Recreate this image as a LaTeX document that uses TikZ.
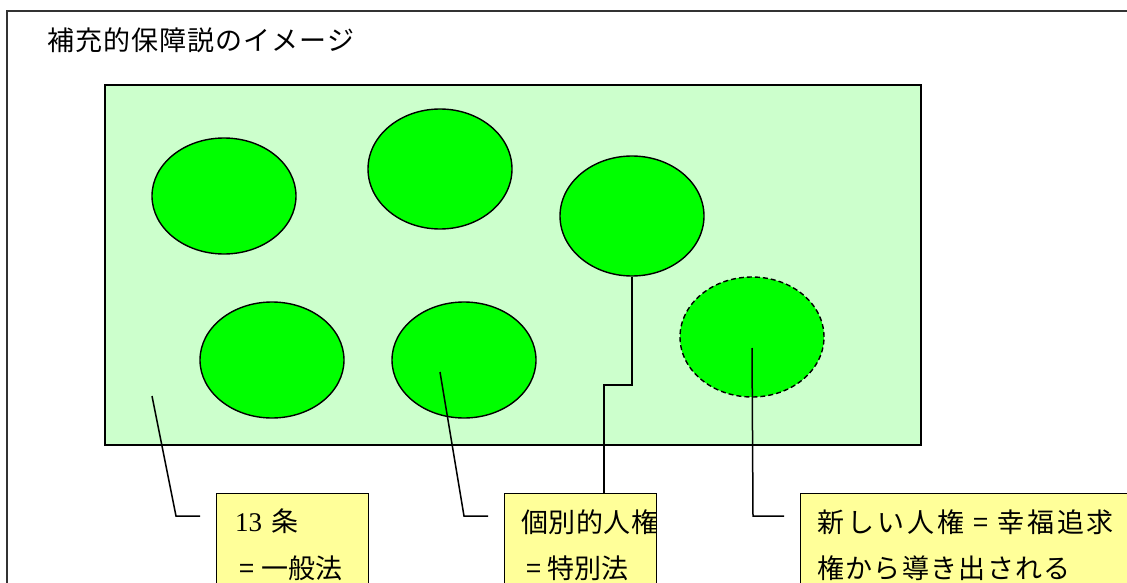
\documentclass[tikz,border=0pt]{standalone}
\usepackage{fontspec}
\setmainfont{Liberation Serif}
\newfontfamily\jp{Noto Sans CJK JP}
\usetikzlibrary{shapes.geometric}
\definecolor{fieldgreen}{HTML}{CCFFCC}
\definecolor{bubble}{HTML}{00FF00}
\definecolor{notey}{HTML}{FFFF99}
\begin{document}
\begin{tikzpicture}[x=1pt,y=-1pt,
  bub/.style={ellipse, draw, line width=1.4pt, fill=bubble, minimum width=144pt, minimum height=118pt, inner sep=0pt},
  note/.style={draw, line width=1.4pt, fill=notey, anchor=north west, inner sep=0pt, minimum height=150pt},
  lead/.style={line width=1.5pt},
  jtxt/.style={anchor=base west, font=\jp\fontsize{27}{27}\selectfont, inner sep=0pt}]
\useasboundingbox (0,0) rectangle (1127,583);
\clip (0,0) rectangle (1127,583);
% frame
\draw[line width=1.6pt, draw=black!80] (7,590) -- (7,11) -- (1130,11);
\node[jtxt, font=\jp\fontsize{27}{27}\selectfont\addfontfeature{LetterSpace=4}] (title) at (47,51) {補充的保障説のイメージ};
% field
\node[draw, line width=1.7pt, fill=fieldgreen, minimum width=816pt, minimum height=360pt, inner sep=0pt, anchor=north west] (field) at (104,84) {};
% bubbles
\node[bub, minimum height=116pt] (e1) at (224,196) {};
\node[bub, minimum height=120pt] (e2) at (440,169) {};
\node[bub, minimum height=120pt] (e3) at (632,216) {};
\node[bub, minimum height=116pt] (e4) at (272,360) {};
\node[bub, minimum height=116pt] (e5) at (464,360) {};
\node[bub, minimum height=120pt, dash pattern=on 5pt off 3pt] (e6) at (752,337) {};
% notes
\node[note, minimum width=152pt] (b1) at (216,493) {};
\node[note, minimum width=152pt] (b2) at (504,493) {};
\node[note, minimum width=340pt] (b3) at (800,493) {};
% texts
\node[jtxt] (t1a) at (235,531) {\hbox{\rmfamily 13}\kern9pt\hbox{条}};
\node[jtxt] (t1b) at (239,578) {\hbox{=}\kern7pt\hbox{一般法}};
\node[jtxt, font=\jp\fontsize{27}{27}\selectfont\addfontfeature{LetterSpace=2}] (t2a) at (521,532) {個別的人権};
\node[jtxt] (t2b) at (526,578) {\hbox{=}\kern6pt\hbox{特別法}};
\node[jtxt, font=\jp\fontsize{27}{27}\selectfont\addfontfeature{LetterSpace=11}] (t3a) at (817,532) {新しい人権 = 幸福追求};
\node[jtxt, font=\jp\fontsize{27}{27}\selectfont\addfontfeature{LetterSpace=5}] (t3b) at (817,578) {権から導き出される};
% leaders
\coordinate (pA) at (152,396); \coordinate (kA) at (176,516); \coordinate (tA) at (200,516);
\draw[lead] (pA) -- (kA) -- (tA);
\coordinate (pB) at (440,372); \coordinate (kB) at (464,516); \coordinate (tB) at (488,516);
\draw[lead] (pB) -- (kB) -- (tB);
\coordinate (kC) at (604,385);
\draw[lead] (e3.south) |- (kC) -- (kC |- b2.north);
\coordinate (pD) at (752,348); \coordinate (kD) at (753,516); \coordinate (tD) at (784,516);
\draw[lead] (pD) -- (kD) -- (tD);
\end{tikzpicture}
\end{document}
